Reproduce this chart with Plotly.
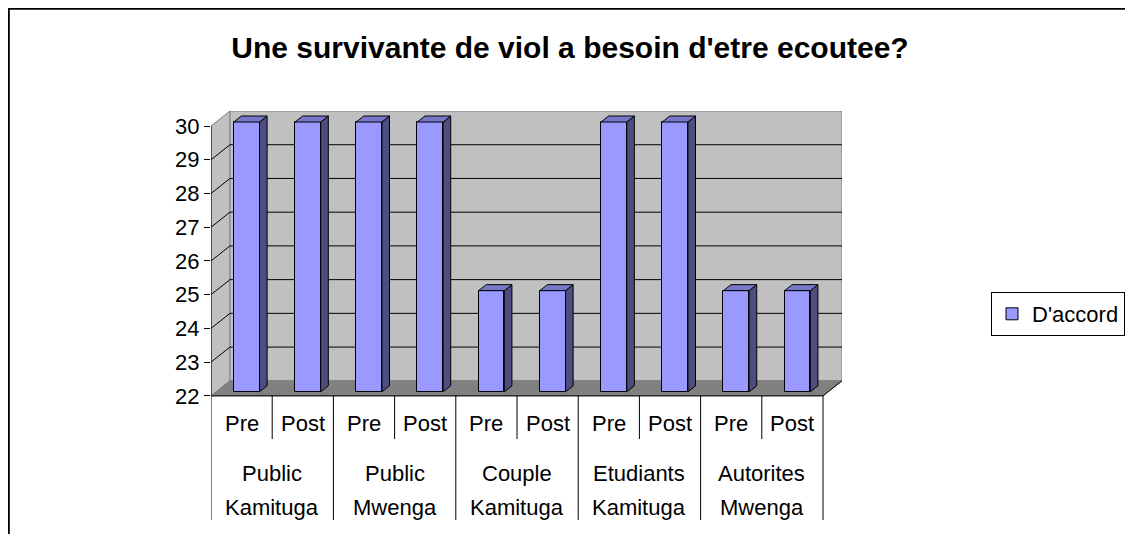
import plotly.graph_objects as go

# ---------------- data ----------------
groups = ["Public Kamituga", "Public Mwenga", "Couple Kamituga",
          "Etudiants Kamituga", "Autorites Mwenga"]
phases = ["Pre", "Post"]
values = [30, 30, 30, 30, 25, 25, 30, 30, 25, 25]
y_ticks = [22, 23, 24, 25, 26, 27, 28, 29, 30]
series_name = "D'accord"
title_text = "Une survivante de viol a besoin d'etre ecoutee?"

# ---------------- geometry / style ----------------
Y0, YMAX = y_ticks[0], y_ticks[-1]
N = len(values)
DX, DY = 0.31, 0.446        # 3-D depth offset (data units)
F1, FD = 0.267, 0.40        # bar front depth, bar depth
W = 0.42                    # bar width
YLOW = 18.2
FONT = "Liberation Sans, Arial, sans-serif"
FRONT, SIDE, TOP = "#9999ff", "#4d4d80", "#7777c8"
WALL, FLOOR, EDGE = "#c0c0c0", "#808080", "#808080"

# page body has an 8px margin: figure pixel = window pixel - 8
FW, FH = 1117, 526
ML, MT, MR, MB = 203, 103, 283, 10
PW, PH = FW - ML - MR, FH - MT - MB


def px_x(fx):
    return (fx - ML) / PW


def px_y(fy):
    return (FH - MB - fy) / PH


xc = [i + 0.5 + F1 * DX for i in range(N)]
base = Y0 + F1 * DY

fig = go.Figure()

# front faces
fig.add_trace(go.Bar(
    x=xc, y=[v - Y0 for v in values], base=base, width=W,
    name=series_name, marker=dict(color=FRONT, line=dict(color="black", width=1)),
    showlegend=True, hoverinfo="skip"))

# side and top faces
sx, sy, tx, ty = [], [], [], []
for x, v in zip(xc, values):
    xl, xr = x - W / 2, x + W / 2
    t = v + F1 * DY
    ox, oy = FD * DX, FD * DY
    sx += [xr, xr + ox, xr + ox, xr, xr, None]
    sy += [base, base + oy, t + oy, t, base, None]
    tx += [xl, xr, xr + ox, xl + ox, xl, None]
    ty += [t, t, t + oy, t + oy, t, None]
fig.add_trace(go.Scatter(x=sx, y=sy, mode="lines", fill="toself", fillcolor=SIDE,
                         line=dict(color="black", width=1), showlegend=False, hoverinfo="skip"))
fig.add_trace(go.Scatter(x=tx, y=ty, mode="lines", fill="toself", fillcolor=TOP,
                         line=dict(color="black", width=1), showlegend=False, hoverinfo="skip"))

shapes = []
# side wall
shapes.append(dict(type="path", xref="x", yref="y", layer="below",
                   path=f"M 0,{Y0} L {DX},{Y0+DY} L {DX},{YMAX+DY} L 0,{YMAX} Z",
                   fillcolor=WALL, line=dict(color=EDGE, width=1)))
# back wall
shapes.append(dict(type="rect", xref="x", yref="y", layer="below",
                   x0=DX, y0=Y0 + DY, x1=N + DX, y1=YMAX + DY,
                   fillcolor=WALL, line=dict(color=EDGE, width=1)))
# floor
shapes.append(dict(type="path", xref="x", yref="y", layer="below",
                   path=f"M 0,{Y0} L {N},{Y0} L {N+DX},{Y0+DY} L {DX},{Y0+DY} Z",
                   fillcolor=FLOOR, line=dict(color=EDGE, width=1)))
# gridlines
for v in y_ticks[1:-1]:
    shapes.append(dict(type="line", xref="x", yref="y", layer="below",
                       x0=DX, y0=v + DY, x1=N + DX, y1=v + DY, line=dict(color="black", width=1)))
    shapes.append(dict(type="line", xref="x", yref="y", layer="below",
                       x0=0, y0=v, x1=DX, y1=v + DY, line=dict(color="black", width=1)))
# floor right edge
shapes.append(dict(type="line", xref="x", yref="y", x0=N, y0=Y0, x1=N + DX, y1=Y0 + DY,
                   line=dict(color="black", width=1)))
# axes
shapes.append(dict(type="line", xref="x", yref="y", x0=0, y0=18.32, x1=0, y1=YMAX,
                   line=dict(color="black", width=1)))
shapes.append(dict(type="line", xref="x", yref="y", x0=0, y0=Y0, x1=N, y1=Y0,
                   line=dict(color="black", width=1)))
# category separators
for i in range(1, N + 1):
    ybot = 18.32 if i % 2 == 0 else 20.72
    shapes.append(dict(type="line", xref="x", yref="y", x0=i, y0=Y0, x1=i, y1=ybot,
                       line=dict(color="black", width=1)))
# outer border: only top and left edges are within the view
shapes.append(dict(type="line", xref="paper", yref="paper",
                   x0=px_x(0), y0=px_y(0.8), x1=px_x(FW), y1=px_y(0.8),
                   line=dict(color="black", width=2)))
shapes.append(dict(type="line", xref="paper", yref="paper",
                   x0=px_x(0.8), y0=px_y(0), x1=px_x(0.8), y1=px_y(FH),
                   line=dict(color="black", width=2)))

annotations = []
for i in range(N):
    annotations.append(dict(x=i + 0.5, y=21.19, xref="x", yref="y", text=phases[i % 2],
                            showarrow=False, font=dict(size=22, color="black", family=FONT)))
for g, name in enumerate(groups):
    l1, l2 = name.split(" ", 1)
    annotations.append(dict(x=2 * g + 1, y=19.71, xref="x", yref="y", text=l1,
                            showarrow=False, font=dict(size=22, color="black", family=FONT)))
    annotations.append(dict(x=2 * g + 1, y=18.70, xref="x", yref="y", text=l2,
                            showarrow=False, font=dict(size=22, color="black", family=FONT)))

fig.update_layout(
    width=FW, height=FH,
    margin=dict(l=ML, r=MR, t=MT, b=MB, pad=0, autoexpand=False),
    paper_bgcolor="white", plot_bgcolor="white",
    font=dict(family=FONT, size=22, color="black"),
    title=dict(text=f"<b>{title_text}</b>", x=(570 - 8) / FW, xref="container",
               xanchor="center", y=1 - (47 - 8) / FH, yref="container", yanchor="middle",
               font=dict(size=30, family=FONT, color="black")),
    xaxis=dict(range=[0, N + DX], visible=False, fixedrange=True),
    yaxis=dict(range=[YLOW, YMAX + DY], tickmode="array", tickvals=y_ticks,
               ticktext=[str(t) for t in y_ticks], ticks="outside", ticklen=6,
               tickcolor="black", tickwidth=1, showgrid=False, zeroline=False,
               showline=False, tickfont=dict(size=22, family=FONT, color="black")),
    legend=dict(x=px_x(991 - 8), y=px_y(292 - 8), xanchor="left", yanchor="top",
                bordercolor="black", borderwidth=1, bgcolor="white",
                font=dict(size=22, family=FONT, color="black"), itemwidth=30),
    shapes=shapes, annotations=annotations, bargap=0,
)

fig.write_html("out.html")
